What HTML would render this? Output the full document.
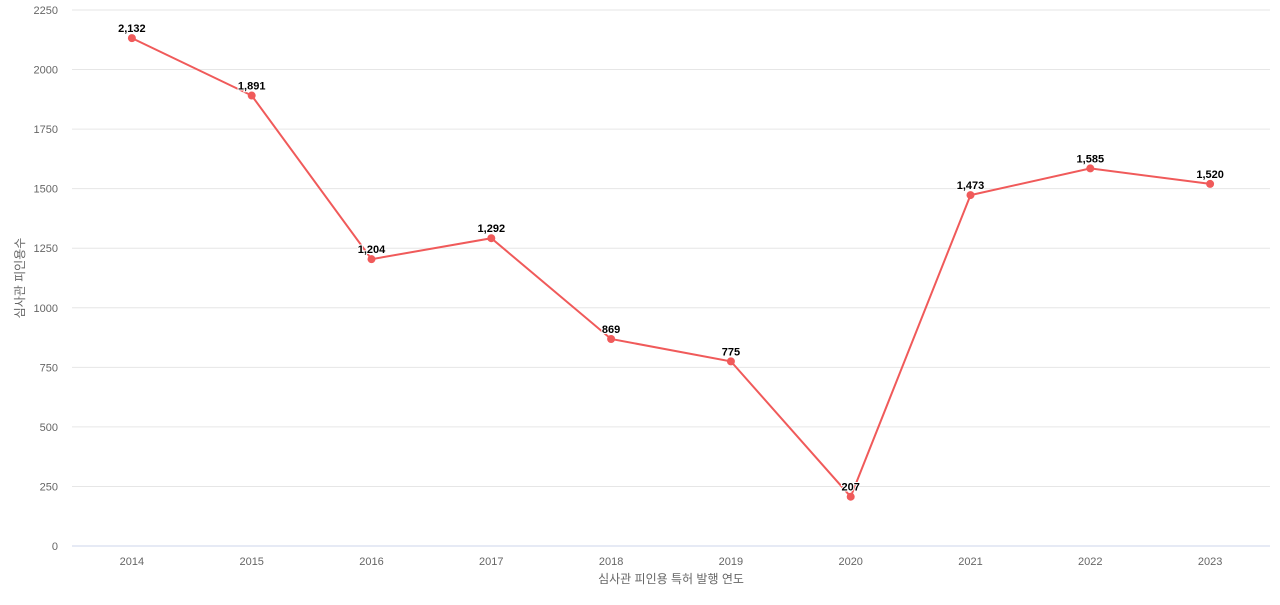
<!DOCTYPE html>
<html><head><meta charset="utf-8"><style>
body{margin:0;background:#fff;font-family:"Liberation Sans","Noto Sans CJK KR",sans-serif}
svg text{font-family:"Liberation Sans","Noto Sans CJK KR",sans-serif}
</style></head><body>
<svg id="chart" width="1280" height="600" xmlns="http://www.w3.org/2000/svg"></svg>
<script>
const categories=["2014","2015","2016","2017","2018","2019","2020","2021","2022","2023"];
const values=[2132,1891,1204,1292,869,775,207,1473,1585,1520];
const labels=["2,132","1,891","1,204","1,292","869","775","207","1,473","1,585","1,520"];
const yTicks=[0,250,500,750,1000,1250,1500,1750,2000,2250];
const L=72,R=1270,T=10,B=546,yMax=2250;
const svg=document.getElementById('chart');
const NS='http://www.w3.org/2000/svg';
const x=i=>L+(R-L)/categories.length*(i+0.5);
const y=v=>B-(B-T)*v/yMax;
function mk(tag,attrs,txt){const e=document.createElementNS(NS,tag);for(const k in attrs)e.setAttribute(k,attrs[k]);if(txt!==undefined)e.textContent=txt;svg.appendChild(e);return e;}
yTicks.forEach(t=>{
  const g=mk('line',{x1:L,x2:R,y1:y(t),y2:y(t),stroke:t===0?'#ccd6eb':'#e6e6e6','stroke-width':1});
  
  
  const tl=mk('text',{x:58,y:y(t)+4,'text-anchor':'end','font-size':11,fill:'#666'},String(t));
  
  
});
categories.forEach((c,i)=>{
  const tl=mk('text',{x:x(i),y:565,'text-anchor':'middle','font-size':11,fill:'#666'},c);
  
  
});
const xt=mk('text',{x:671,y:583,'text-anchor':'middle','font-size':12,fill:'#666'},'심사관 피인용 특허 발행 연도');


const yt=mk('text',{x:0,y:0,'text-anchor':'middle','font-size':12,fill:'#666',transform:'translate(24,278) rotate(-90)'},'심사관 피인용수');


const line=mk('polyline',{points:values.map((v,i)=>x(i)+','+y(v)).join(' '),fill:'none',stroke:'#f05a5a','stroke-width':2});


values.forEach((v,i)=>{
  const p=mk('circle',{cx:x(i),cy:y(v),r:4,fill:'#f05a5a'});
  
  
  const l=mk('text',{x:x(i),y:y(v)-6,'text-anchor':'middle','font-size':11,'font-weight':'bold',fill:'#000',stroke:'#fff','stroke-width':2,'paint-order':'stroke'},labels[i]);
  
  
});
</script>
</body></html>
